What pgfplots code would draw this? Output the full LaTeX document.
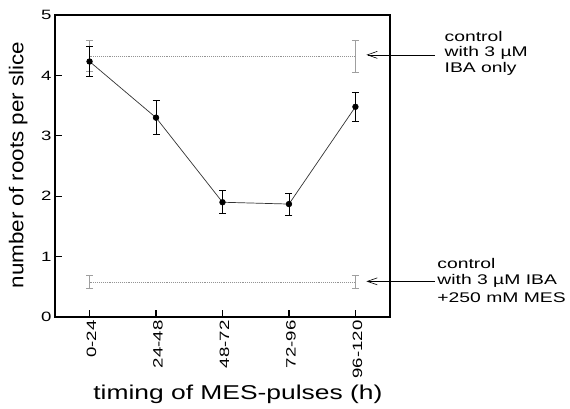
\documentclass[border=0pt]{standalone}
\usepackage{fontspec}
\setmainfont{Liberation Sans}
\usepackage{graphicx}
\usepackage{pgfplots}
\usepackage{pgfplotstable}
\pgfplotsset{compat=1.18}
\usetikzlibrary{arrows.meta}
\newcommand\W[2][1.38]{\scalebox{#1}[1]{#2}}

\pgfplotstableread{
x y e
0 4.23 0.25
1 3.30 0.28
2 1.90 0.19
3 1.87 0.18
4 3.48 0.24
}\datatable

\pgfplotstableread{
x y e
0 4.32 0.26
4 4.32 0.265
}\ctrlhigh

\pgfplotstableread{
x y e
0 0.58 0.10
4 0.58 0.10
}\ctrllow

\begin{document}
\begin{tikzpicture}
\useasboundingbox (-55pt,-92pt) rectangle (515pt,317pt);
\begin{axis}[
  scale only axis, width=335pt, height=302pt,
  xmin=-0.52, xmax=4.52, ymin=0, ymax=5,
  xtick={0,1,2,3,4},
  xticklabels={\W{0-24},\W{24-48},\W{48-72},\W{72-96},\W{96-120}},
  ytick={0,1,2,3,4,5},
  yticklabels={\W{0},\W{1},\W{2},\W{3},\W{4},\W{5}},
  tick pos=left, tick align=inside, major tick length=7pt,
  axis line style={line width=1.6pt},
  every tick/.style={black, line width=1.3pt},
  /pgf/number format/assume math mode=true,
  ticklabel style={font=\fontsize{13.5}{13.5}\selectfont},
  x tick label style={rotate=90, anchor=east, yshift=-2pt},
  xlabel={\W[1.32]{timing of MES-pulses (h)}},
  xlabel style={font=\fontsize{20}{20}\selectfont, at={(axis description cs:0.546,0)}, anchor=base, yshift=-82pt},
  ylabel={\W[1.12]{number of roots per slice}},
  ylabel style={font=\fontsize{20}{20}\selectfont, at={(axis description cs:-0.110,0.503)}, anchor=center},
  clip=false,
]
% control lines (grey, dotted)
\addplot[gray!85, densely dotted, line width=0.9pt, mark=none,
  error bars/.cd, y dir=both, y explicit,
  error bar style={solid, gray!75, line width=1.3pt},
  error mark options={rotate=90, mark size=3.5pt, solid, gray!75, line width=1pt}]
  table[x=x, y=y, y error=e] {\ctrlhigh};
\addplot[gray!85, densely dotted, line width=0.9pt, mark=none,
  error bars/.cd, y dir=both, y explicit,
  error bar style={solid, gray!75, line width=1.3pt},
  error mark options={rotate=90, mark size=3.5pt, solid, gray!75, line width=1pt}]
  table[x=x, y=y, y error=e] {\ctrllow};
% data
\addplot[black!80, line width=0.7pt, mark=*, mark size=2.8pt,
  mark options={black, fill=black},
  error bars/.cd, y dir=both, y explicit,
  error bar style={black, line width=0.8pt},
  error mark options={rotate=90, mark size=3.5pt, black, line width=0.8pt}]
  table[x=x, y=y, y error=e] {\datatable};

% arrows
\draw[-{Straight Barb[length=10pt,width=7pt]}, line width=0.6pt]
  (axis cs:5.19,4.34) -- (axis cs:4.165,4.34);
\draw[-{Straight Barb[length=10pt,width=7pt]}, line width=0.6pt]
  (axis cs:5.19,0.59) -- (axis cs:4.165,0.59);

% annotations
\begin{scope}[every node/.style={anchor=base west, inner sep=0pt, font=\fontsize{14}{14}\selectfont}]
\node at (axis cs:5.34,4.553) {\W{control}};
\node at (axis cs:5.34,4.305) {\W{with 3 µM}};
\node at (axis cs:5.34,4.056) {\W{IBA only}};
\node at (axis cs:5.23,0.795) {\W{control}};
\node at (axis cs:5.23,0.530) {\W{with 3 µM IBA}};
\node at (axis cs:5.23,0.248) {\W{+250 mM MES}};
\end{scope}
\end{axis}
\end{tikzpicture}
\end{document}
